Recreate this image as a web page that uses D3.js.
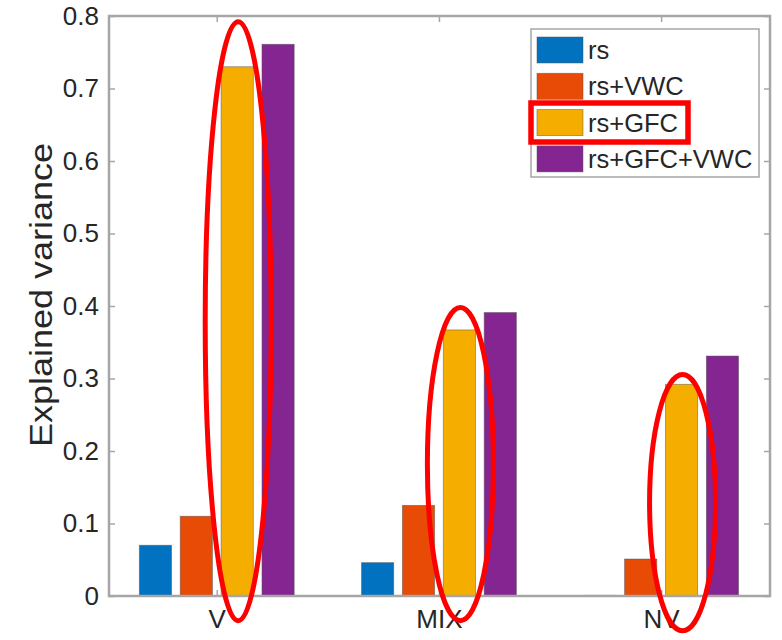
<!DOCTYPE html>
<html>
<head>
<meta charset="utf-8">
<script src="https://cdn.jsdelivr.net/npm/d3@7"></script>
<style>
body { margin: 0; background: #fff; }
text { font-family: "Liberation Sans", Arial, Helvetica, sans-serif; fill: #262626; }
</style>
</head>
<body>
<div id="chart"></div>
<script>
var categories = ["V", "MIX", "NV"];
var seriesNames = ["rs", "rs+VWC", "rs+GFC", "rs+GFC+VWC"];
var seriesColors = ["#0072c0", "#e84b05", "#f5ae00", "#852592"];
var rsVals = [0.070, 0.046, 0.001];
var rsVwcVals = [0.110, 0.125, 0.051];
var rsGfcVals = [0.730, 0.367, 0.292];
var rsGfcVwcVals = [0.761, 0.391, 0.331];
var yTicks = [0, 0.1, 0.2, 0.3, 0.4, 0.5, 0.6, 0.7, 0.8];
var yTickLabels = ["0", "0.1", "0.2", "0.3", "0.4", "0.5", "0.6", "0.7", "0.8"];
var yLabel = "Explained variance";

var series = [rsVals, rsVwcVals, rsGfcVals, rsGfcVwcVals];

var margin = { top: 16, right: 12, bottom: 44, left: 109 };
var width = 782 - margin.left - margin.right;
var height = 640 - margin.top - margin.bottom;

var svg = d3.select('#chart').append('svg')
    .attr("width", 782)
    .attr("height", 640);

var chart = svg.append("g")
    .attr("transform", "translate(" + margin.left + "," + margin.top + ")");

// category axis like matlab: categories at 1,2,3
var xScale = d3.scaleLinear()
    .domain([0.515, 3.49])
    .range([0, width]);

var yScale = d3.scaleLinear()
    .domain([0, 0.8])
    .range([height, 0]);

var step = 0.184, barW = 0.145;

// bars
series.forEach(function(vals, s) {
    chart.selectAll(".bar" + s)
        .data(vals)
        .enter().append("rect")
        .attr("x", function(d, i) { return xScale(i + 1 + (s - 1.5) * step - barW / 2); })
        .attr("width", xScale(barW) - xScale(0))
        .attr("y", function(d) { return yScale(d); })
        .attr("height", function(d) { return yScale(0) - yScale(d); })
        .attr("fill", seriesColors[s])
        .attr("stroke", "#555")
        .attr("stroke-opacity", 0.6)
        .attr("stroke-width", 0.8);
});

// axes
var axisColor = "#a6a6a6";
function styleAxis(g) {
    g.select(".domain").remove();
    g.selectAll("line").attr("stroke", axisColor).attr("stroke-width", 1.5);
    g.selectAll("text").attr("font-size", 26).attr("fill", "#262626")
        .attr("font-family", '"Liberation Sans", Arial, sans-serif');
}

chart.append("g")
    .call(d3.axisLeft(yScale).tickValues(yTicks)
        .tickFormat(function(d, i) { return yTickLabels[i]; })
        .tickSizeInner(-6).tickSizeOuter(0).tickPadding(10))
    .call(styleAxis);

chart.append("g")
    .attr("transform", "translate(" + width + ",0)")
    .call(d3.axisRight(yScale).tickValues(yTicks)
        .tickFormat("").tickSizeInner(-6).tickSizeOuter(0))
    .call(styleAxis);

chart.append("g")
    .attr("transform", "translate(0," + height + ")")
    .call(d3.axisBottom(xScale).tickValues([1, 2, 3])
        .tickFormat(function(d) { return categories[d - 1]; })
        .tickSizeInner(-6).tickSizeOuter(0).tickPadding(14))
    .call(styleAxis);

chart.append("g")
    .call(d3.axisTop(xScale).tickValues([1, 2, 3])
        .tickFormat("").tickSizeInner(-6).tickSizeOuter(0))
    .call(styleAxis);

// box
chart.append("rect")
    .attr("x", 0).attr("y", 0)
    .attr("width", width).attr("height", height)
    .attr("fill", "none")
    .attr("stroke", axisColor)
    .attr("stroke-width", 2.5);

// y label (the source figure is a bit stretched vertically)
svg.append("text")
    .attr("transform", "translate(52,295) rotate(-90) scale(1.16,1)")
    .attr("text-anchor", "middle")
    .attr("font-size", 31)
    .text(yLabel);

// legend
var legend = svg.append("g").attr("transform", "translate(531,29)");
legend.append("rect")
    .attr("width", 228).attr("height", 148)
    .attr("fill", "#fff")
    .attr("stroke", axisColor)
    .attr("stroke-width", 1.5);

seriesNames.forEach(function(name, i) {
    var row = legend.append("g").attr("transform", "translate(6," + (8 + i * 36.3) + ")");
    row.append("rect")
        .attr("width", 46).attr("height", 26)
        .attr("fill", seriesColors[i])
        .attr("stroke", "#555").attr("stroke-opacity", 0.6).attr("stroke-width", 0.8);
    row.append("text")
        .attr("x", 51).attr("y", 13)
        .attr("dy", "0.36em")
        .attr("font-size", 25.5)
        .text(name);
});

// red annotations
var hiCat = [1, 2, 3];
var hiTop = [0.792, 0.398, 0.3055];
var hiBottom = [-0.034, -0.034, -0.048];
chart.selectAll(".hi")
    .data(hiCat)
    .enter().append("ellipse")
    .attr("cx", function(d) { return xScale(d + 0.5 * step) + 1; })
    .attr("cy", function(d, i) { return (yScale(hiTop[i]) + yScale(hiBottom[i])) / 2; })
    .attr("rx", 33)
    .attr("ry", function(d, i) { return (yScale(hiBottom[i]) - yScale(hiTop[i])) / 2; })
    .attr("fill", "none")
    .attr("stroke", "#ff0000")
    .attr("stroke-width", 5);

legend.append("rect")
    .attr("x", 0).attr("y", 74)
    .attr("width", 157).attr("height", 39)
    .attr("fill", "none")
    .attr("stroke", "#ff0000")
    .attr("stroke-width", 5.5);
</script>
</body>
</html>
